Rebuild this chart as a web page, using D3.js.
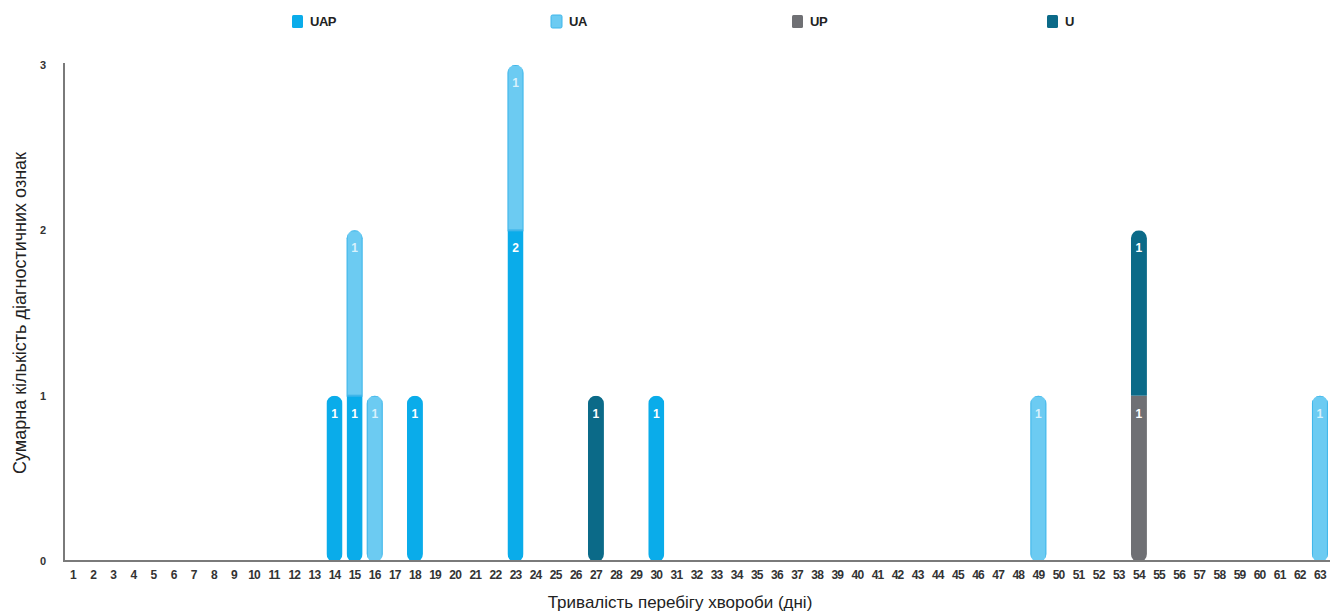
<!DOCTYPE html>
<html>
<head>
<meta charset="utf-8">
<script src="https://cdn.jsdelivr.net/npm/d3@7"></script>
<style>
  html, body { margin: 0; padding: 0; background: #fff; }
  svg { display: block; font-family: "Liberation Sans", Arial, sans-serif; }
</style>
</head>
<body>
<svg id="chart" width="1330" height="612"></svg>
<script>
// Duration of illness in days (1..63)
const days = d3.range(1, 64);

// Series: number of diagnostic signs per day for each combination
const seriesNames = ["UAP", "UA", "UP", "U"];
const seriesColors = ["#0aacea", "#6ccbf2", "#6f7074", "#0b6a88"];
const seriesStroke = ["none", "#3fb6ea", "none", "none"];

const valuesUAP = [{day: 14, v: 1}, {day: 15, v: 1}, {day: 18, v: 1}, {day: 23, v: 2}, {day: 30, v: 1}];
const valuesUA  = [{day: 15, v: 1}, {day: 16, v: 1}, {day: 23, v: 1}, {day: 49, v: 1}, {day: 63, v: 1}];
const valuesUP  = [{day: 54, v: 1}];
const valuesU   = [{day: 27, v: 1}, {day: 54, v: 1}];

const yTicks = [0, 1, 2, 3];
const yTitle = "Сумарна кількість діагностичних ознак";
const xTitle = "Тривалість перебігу хвороби (дні)";

// Build a table: one row per day, one column per series
const seriesValues = [valuesUAP, valuesUA, valuesUP, valuesU];
const table = days.map(d => {
  const row = {day: d};
  seriesNames.forEach((s, i) => {
    const f = seriesValues[i].find(e => e.day === d);
    row[s] = f ? f.v : 0;
  });
  return row;
});

const stacked = d3.stack().keys(seriesNames)(table);

const svg = d3.select("#chart");
const margin = {left: 64, right: 0, top: 65, bottom: 51};
const W = 1330, H = 612;

const x = d3.scaleBand().domain(days).range([63, 1330]).padding(0);
const y = d3.scaleLinear().domain([0, 3]).range([H - margin.bottom, margin.top]);

const barW = 16;
const bx = d => x(d) + x.bandwidth() / 2 - barW / 2;

// Clip each column into a rounded capsule that spans its whole stack
const defs = svg.append("defs");
table.forEach(r => {
  const total = d3.sum(seriesNames, s => r[s]);
  if (total <= 0) return;
  defs.append("clipPath").attr("id", "col" + r.day)
    .append("rect")
    .attr("x", bx(r.day)).attr("width", barW)
    .attr("y", y(total)).attr("height", y(0) - y(total) + 1)
    .attr("rx", barW / 2).attr("ry", barW / 2);
});

// Bars
const layers = svg.append("g");
stacked.forEach((layer, i) => {
  const g = layers.append("g");
  layer.forEach(seg => {
    const d = seg.data.day;
    const v = seg[1] - seg[0];
    if (v <= 0) return;
    g.append("rect")
      .attr("clip-path", `url(#col${d})`)
      .attr("x", bx(d))
      .attr("width", barW)
      .attr("y", y(seg[1]))
      .attr("height", y(seg[0]) - y(seg[1]))
      .attr("fill", seriesColors[i])
      .attr("stroke", seriesStroke[i])
      .attr("stroke-width", 2);
    g.append("text")
      .attr("x", x(d) + x.bandwidth() / 2)
      .attr("y", y(seg[1]) + 22)
      .attr("text-anchor", "middle")
      .attr("font-size", 12)
      .attr("font-weight", "bold")
      .attr("fill", i === 1 ? "#d8f1fc" : "#ffffff")
      .text(v);
  });
});

// Axes lines
svg.append("line")
  .attr("x1", margin.left).attr("x2", margin.left)
  .attr("y1", y(3) - 2).attr("y2", y(0) + 1)
  .attr("stroke", "#7a7a7a").attr("stroke-width", 2);
svg.append("line")
  .attr("x1", margin.left - 1).attr("x2", W)
  .attr("y1", y(0)).attr("y2", y(0))
  .attr("stroke", "#7a7a7a").attr("stroke-width", 2);

// Y ticks
const yAxis = svg.append("g")
  .attr("transform", `translate(${margin.left},0)`)
  .call(d3.axisLeft(y).tickValues(yTicks).tickFormat(d3.format("d")).tickSize(0).tickPadding(18));
yAxis.select(".domain").remove();
yAxis.selectAll("text").attr("font-size", 11).attr("font-weight", "bold").attr("fill", "#333")
  .attr("font-family", "Liberation Sans, Arial, sans-serif");

// X ticks
const xAxis = svg.append("g")
  .attr("transform", `translate(0,${y(0)})`)
  .call(d3.axisBottom(x).tickSize(0).tickPadding(9));
xAxis.select(".domain").remove();
xAxis.selectAll("text").attr("font-size", 12).attr("font-weight", "bold").attr("fill", "#333")
  .attr("letter-spacing", "-0.8")
  .attr("font-family", "Liberation Sans, Arial, sans-serif");

// Axis titles
svg.append("text")
  .attr("transform", `translate(26,${(y(0) + y(3)) / 2}) rotate(-90)`)
  .attr("text-anchor", "middle")
  .attr("font-size", 18).attr("fill", "#222")
  .text(yTitle);
svg.append("text")
  .attr("x", 680).attr("y", 608)
  .attr("text-anchor", "middle")
  .attr("font-size", 17).attr("fill", "#222")
  .text(xTitle);

// Legend
const legendX = [292, 551, 792, 1047];
const legend = svg.append("g");
seriesNames.forEach((s, i) => {
  const g = legend.append("g").attr("transform", `translate(${legendX[i]},15)`);
  g.append("rect").attr("width", 11).attr("height", 13).attr("rx", 1.5)
    .attr("fill", seriesColors[i])
    .attr("stroke", seriesStroke[i]).attr("stroke-width", 1);
  g.append("text").attr("x", 18).attr("y", 11)
    .attr("font-size", 13).attr("font-weight", "bold").attr("fill", "#222")
    .attr("letter-spacing", "-0.5")
    .text(s);
});
</script>
</body>
</html>
